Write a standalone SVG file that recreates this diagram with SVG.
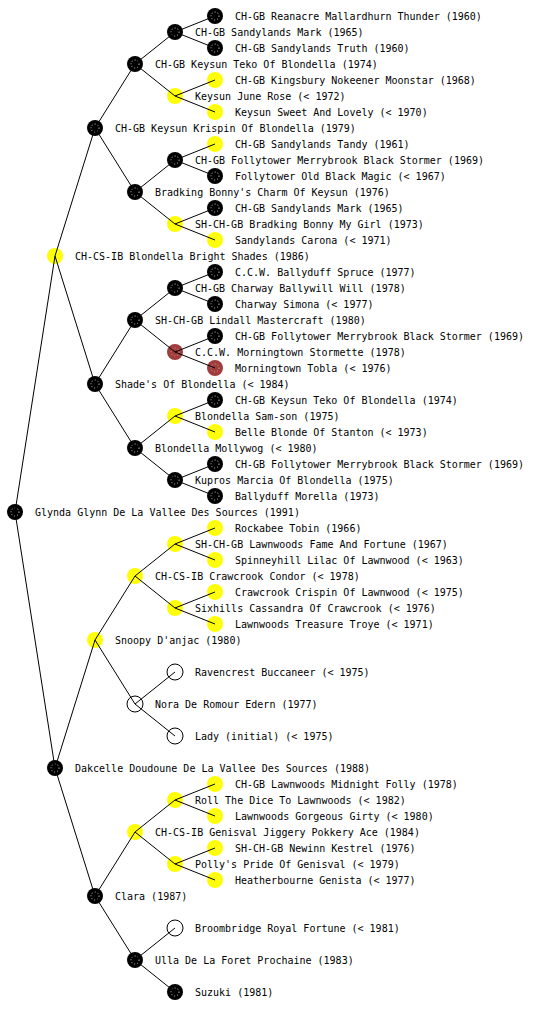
<svg xmlns="http://www.w3.org/2000/svg" width="560" height="1024" viewBox="0 0 560 1024">
<style>
text{font-family:"DejaVu Sans Mono","Liberation Mono",monospace;font-size:10px;fill:#000}
.b{fill:#000}
.y{fill:#ffff00}
.r{fill:#a03c3c}
.o{fill:#fff;stroke:#000;stroke-width:1}
.d{fill:none;stroke:#fff;stroke-width:1;stroke-dasharray:1 2;opacity:0.8}
.dy{fill:none;stroke:#fff;stroke-width:1;stroke-dasharray:1 2;opacity:0.5}
#edges line{stroke:#000;stroke-width:1}
</style>
<rect width="560" height="1024" fill="#fff"/>
<g id="nodes">
<g id="n0"><circle class="b" cx="15" cy="512" r="8"/><circle class="d" cx="15" cy="512" r="4"/><text x="35" y="516">Glynda Glynn De La Vallee Des Sources (1991)</text></g>
<g id="n1"><circle class="y" cx="55" cy="256" r="8"/><circle class="dy" cx="55" cy="256" r="4"/><text x="75" y="260">CH-CS-IB Blondella Bright Shades (1986)</text></g>
<g id="n2"><circle class="b" cx="95" cy="128" r="8"/><circle class="d" cx="95" cy="128" r="4"/><text x="115" y="132">CH-GB Keysun Krispin Of Blondella (1979)</text></g>
<g id="n3"><circle class="b" cx="135" cy="64" r="8"/><circle class="d" cx="135" cy="64" r="4"/><text x="155" y="68">CH-GB Keysun Teko Of Blondella (1974)</text></g>
<g id="n4"><circle class="b" cx="175" cy="32" r="8"/><circle class="d" cx="175" cy="32" r="4"/><text x="195" y="36">CH-GB Sandylands Mark (1965)</text></g>
<g id="n5"><circle class="b" cx="215" cy="16" r="8"/><circle class="d" cx="215" cy="16" r="4"/><text x="235" y="20">CH-GB Reanacre Mallardhurn Thunder (1960)</text></g>
<g id="n6"><circle class="b" cx="215" cy="48" r="8"/><circle class="d" cx="215" cy="48" r="4"/><text x="235" y="52">CH-GB Sandylands Truth (1960)</text></g>
<g id="n7"><circle class="y" cx="175" cy="96" r="8"/><circle class="dy" cx="175" cy="96" r="4"/><text x="195" y="100">Keysun June Rose (&lt; 1972)</text></g>
<g id="n8"><circle class="y" cx="215" cy="80" r="8"/><circle class="dy" cx="215" cy="80" r="4"/><text x="235" y="84">CH-GB Kingsbury Nokeener Moonstar (1968)</text></g>
<g id="n9"><circle class="y" cx="215" cy="112" r="8"/><circle class="dy" cx="215" cy="112" r="4"/><text x="235" y="116">Keysun Sweet And Lovely (&lt; 1970)</text></g>
<g id="n10"><circle class="b" cx="135" cy="192" r="8"/><circle class="d" cx="135" cy="192" r="4"/><text x="155" y="196">Bradking Bonny's Charm Of Keysun (1976)</text></g>
<g id="n11"><circle class="b" cx="175" cy="160" r="8"/><circle class="d" cx="175" cy="160" r="4"/><text x="195" y="164">CH-GB Follytower Merrybrook Black Stormer (1969)</text></g>
<g id="n12"><circle class="y" cx="215" cy="144" r="8"/><circle class="dy" cx="215" cy="144" r="4"/><text x="235" y="148">CH-GB Sandylands Tandy (1961)</text></g>
<g id="n13"><circle class="b" cx="215" cy="176" r="8"/><circle class="d" cx="215" cy="176" r="4"/><text x="235" y="180">Follytower Old Black Magic (&lt; 1967)</text></g>
<g id="n14"><circle class="y" cx="175" cy="224" r="8"/><circle class="dy" cx="175" cy="224" r="4"/><text x="195" y="228">SH-CH-GB Bradking Bonny My Girl (1973)</text></g>
<g id="n15"><circle class="b" cx="215" cy="208" r="8"/><circle class="d" cx="215" cy="208" r="4"/><text x="235" y="212">CH-GB Sandylands Mark (1965)</text></g>
<g id="n16"><circle class="y" cx="215" cy="240" r="8"/><circle class="dy" cx="215" cy="240" r="4"/><text x="235" y="244">Sandylands Carona (&lt; 1971)</text></g>
<g id="n17"><circle class="b" cx="95" cy="384" r="8"/><circle class="d" cx="95" cy="384" r="4"/><text x="115" y="388">Shade's Of Blondella (&lt; 1984)</text></g>
<g id="n18"><circle class="b" cx="135" cy="320" r="8"/><circle class="d" cx="135" cy="320" r="4"/><text x="155" y="324">SH-CH-GB Lindall Mastercraft (1980)</text></g>
<g id="n19"><circle class="b" cx="175" cy="288" r="8"/><circle class="d" cx="175" cy="288" r="4"/><text x="195" y="292">CH-GB Charway Ballywill Will (1978)</text></g>
<g id="n20"><circle class="b" cx="215" cy="272" r="8"/><circle class="d" cx="215" cy="272" r="4"/><text x="235" y="276">C.C.W. Ballyduff Spruce (1977)</text></g>
<g id="n21"><circle class="b" cx="215" cy="304" r="8"/><circle class="d" cx="215" cy="304" r="4"/><text x="235" y="308">Charway Simona (&lt; 1977)</text></g>
<g id="n22"><circle class="r" cx="175" cy="352" r="8"/><circle class="dy" cx="175" cy="352" r="4"/><text x="195" y="356">C.C.W. Morningtown Stormette (1978)</text></g>
<g id="n23"><circle class="b" cx="215" cy="336" r="8"/><circle class="d" cx="215" cy="336" r="4"/><text x="235" y="340">CH-GB Follytower Merrybrook Black Stormer (1969)</text></g>
<g id="n24"><circle class="r" cx="215" cy="368" r="8"/><circle class="dy" cx="215" cy="368" r="4"/><text x="235" y="372">Morningtown Tobla (&lt; 1976)</text></g>
<g id="n25"><circle class="b" cx="135" cy="448" r="8"/><circle class="d" cx="135" cy="448" r="4"/><text x="155" y="452">Blondella Mollywog (&lt; 1980)</text></g>
<g id="n26"><circle class="y" cx="175" cy="416" r="8"/><circle class="dy" cx="175" cy="416" r="4"/><text x="195" y="420">Blondella Sam-son (1975)</text></g>
<g id="n27"><circle class="b" cx="215" cy="400" r="8"/><circle class="d" cx="215" cy="400" r="4"/><text x="235" y="404">CH-GB Keysun Teko Of Blondella (1974)</text></g>
<g id="n28"><circle class="y" cx="215" cy="432" r="8"/><circle class="dy" cx="215" cy="432" r="4"/><text x="235" y="436">Belle Blonde Of Stanton (&lt; 1973)</text></g>
<g id="n29"><circle class="b" cx="175" cy="480" r="8"/><circle class="d" cx="175" cy="480" r="4"/><text x="195" y="484">Kupros Marcia Of Blondella (1975)</text></g>
<g id="n30"><circle class="b" cx="215" cy="464" r="8"/><circle class="d" cx="215" cy="464" r="4"/><text x="235" y="468">CH-GB Follytower Merrybrook Black Stormer (1969)</text></g>
<g id="n31"><circle class="b" cx="215" cy="496" r="8"/><circle class="d" cx="215" cy="496" r="4"/><text x="235" y="500">Ballyduff Morella (1973)</text></g>
<g id="n32"><circle class="b" cx="55" cy="768" r="8"/><circle class="d" cx="55" cy="768" r="4"/><text x="75" y="772">Dakcelle Doudoune De La Vallee Des Sources (1988)</text></g>
<g id="n33"><circle class="y" cx="95" cy="640" r="8"/><circle class="dy" cx="95" cy="640" r="4"/><text x="115" y="644">Snoopy D'anjac (1980)</text></g>
<g id="n34"><circle class="y" cx="135" cy="576" r="8"/><circle class="dy" cx="135" cy="576" r="4"/><text x="155" y="580">CH-CS-IB Crawcrook Condor (&lt; 1978)</text></g>
<g id="n35"><circle class="y" cx="175" cy="544" r="8"/><circle class="dy" cx="175" cy="544" r="4"/><text x="195" y="548">SH-CH-GB Lawnwoods Fame And Fortune (1967)</text></g>
<g id="n36"><circle class="y" cx="215" cy="528" r="8"/><circle class="dy" cx="215" cy="528" r="4"/><text x="235" y="532">Rockabee Tobin (1966)</text></g>
<g id="n37"><circle class="y" cx="215" cy="560" r="8"/><circle class="dy" cx="215" cy="560" r="4"/><text x="235" y="564">Spinneyhill Lilac Of Lawnwood (&lt; 1963)</text></g>
<g id="n38"><circle class="y" cx="175" cy="608" r="8"/><circle class="dy" cx="175" cy="608" r="4"/><text x="195" y="612">Sixhills Cassandra Of Crawcrook (&lt; 1976)</text></g>
<g id="n39"><circle class="y" cx="215" cy="592" r="8"/><circle class="dy" cx="215" cy="592" r="4"/><text x="235" y="596">Crawcrook Crispin Of Lawnwood (&lt; 1975)</text></g>
<g id="n40"><circle class="y" cx="215" cy="624" r="8"/><circle class="dy" cx="215" cy="624" r="4"/><text x="235" y="628">Lawnwoods Treasure Troye (&lt; 1971)</text></g>
<g id="n41"><circle class="o" cx="135" cy="704" r="8"/><text x="155" y="708">Nora De Romour Edern (1977)</text></g>
<g id="n42"><circle class="o" cx="175" cy="672" r="8"/><text x="195" y="676">Ravencrest Buccaneer (&lt; 1975)</text></g>
<g id="n43"><circle class="o" cx="175" cy="736" r="8"/><text x="195" y="740">Lady (initial) (&lt; 1975)</text></g>
<g id="n44"><circle class="b" cx="95" cy="896" r="8"/><circle class="d" cx="95" cy="896" r="4"/><text x="115" y="900">Clara (1987)</text></g>
<g id="n45"><circle class="y" cx="135" cy="832" r="8"/><circle class="dy" cx="135" cy="832" r="4"/><text x="155" y="836">CH-CS-IB Genisval Jiggery Pokkery Ace (1984)</text></g>
<g id="n46"><circle class="y" cx="175" cy="800" r="8"/><circle class="dy" cx="175" cy="800" r="4"/><text x="195" y="804">Roll The Dice To Lawnwoods (&lt; 1982)</text></g>
<g id="n47"><circle class="y" cx="215" cy="784" r="8"/><circle class="dy" cx="215" cy="784" r="4"/><text x="235" y="788">CH-GB Lawnwoods Midnight Folly (1978)</text></g>
<g id="n48"><circle class="y" cx="215" cy="816" r="8"/><circle class="dy" cx="215" cy="816" r="4"/><text x="235" y="820">Lawnwoods Gorgeous Girty (&lt; 1980)</text></g>
<g id="n49"><circle class="y" cx="175" cy="864" r="8"/><circle class="dy" cx="175" cy="864" r="4"/><text x="195" y="868">Polly's Pride Of Genisval (&lt; 1979)</text></g>
<g id="n50"><circle class="y" cx="215" cy="848" r="8"/><circle class="dy" cx="215" cy="848" r="4"/><text x="235" y="852">SH-CH-GB Newinn Kestrel (1976)</text></g>
<g id="n51"><circle class="y" cx="215" cy="880" r="8"/><circle class="dy" cx="215" cy="880" r="4"/><text x="235" y="884">Heatherbourne Genista (&lt; 1977)</text></g>
<g id="n52"><circle class="b" cx="135" cy="960" r="8"/><circle class="d" cx="135" cy="960" r="4"/><text x="155" y="964">Ulla De La Foret Prochaine (1983)</text></g>
<g id="n53"><circle class="o" cx="175" cy="928" r="8"/><text x="195" y="932">Broombridge Royal Fortune (&lt; 1981)</text></g>
<g id="n54"><circle class="b" cx="175" cy="992" r="8"/><circle class="d" cx="175" cy="992" r="4"/><text x="195" y="996">Suzuki (1981)</text></g>
</g>
<g id="edges">
<line x1="15" y1="512" x2="55" y2="256"/><line x1="15" y1="512" x2="55" y2="768"/>
<line x1="55" y1="256" x2="95" y2="128"/><line x1="55" y1="256" x2="95" y2="384"/>
<line x1="95" y1="128" x2="135" y2="64"/><line x1="95" y1="128" x2="135" y2="192"/>
<line x1="135" y1="64" x2="175" y2="32"/><line x1="135" y1="64" x2="175" y2="96"/>
<line x1="175" y1="32" x2="215" y2="16"/><line x1="175" y1="32" x2="215" y2="48"/>
<line x1="175" y1="96" x2="215" y2="80"/><line x1="175" y1="96" x2="215" y2="112"/>
<line x1="135" y1="192" x2="175" y2="160"/><line x1="135" y1="192" x2="175" y2="224"/>
<line x1="175" y1="160" x2="215" y2="144"/><line x1="175" y1="160" x2="215" y2="176"/>
<line x1="175" y1="224" x2="215" y2="208"/><line x1="175" y1="224" x2="215" y2="240"/>
<line x1="95" y1="384" x2="135" y2="320"/><line x1="95" y1="384" x2="135" y2="448"/>
<line x1="135" y1="320" x2="175" y2="288"/><line x1="135" y1="320" x2="175" y2="352"/>
<line x1="175" y1="288" x2="215" y2="272"/><line x1="175" y1="288" x2="215" y2="304"/>
<line x1="175" y1="352" x2="215" y2="336"/><line x1="175" y1="352" x2="215" y2="368"/>
<line x1="135" y1="448" x2="175" y2="416"/><line x1="135" y1="448" x2="175" y2="480"/>
<line x1="175" y1="416" x2="215" y2="400"/><line x1="175" y1="416" x2="215" y2="432"/>
<line x1="175" y1="480" x2="215" y2="464"/><line x1="175" y1="480" x2="215" y2="496"/>
<line x1="55" y1="768" x2="95" y2="640"/><line x1="55" y1="768" x2="95" y2="896"/>
<line x1="95" y1="640" x2="135" y2="576"/><line x1="95" y1="640" x2="135" y2="704"/>
<line x1="135" y1="576" x2="175" y2="544"/><line x1="135" y1="576" x2="175" y2="608"/>
<line x1="175" y1="544" x2="215" y2="528"/><line x1="175" y1="544" x2="215" y2="560"/>
<line x1="175" y1="608" x2="215" y2="592"/><line x1="175" y1="608" x2="215" y2="624"/>
<line x1="135" y1="704" x2="175" y2="672"/><line x1="135" y1="704" x2="175" y2="736"/>
<line x1="95" y1="896" x2="135" y2="832"/><line x1="95" y1="896" x2="135" y2="960"/>
<line x1="135" y1="832" x2="175" y2="800"/><line x1="135" y1="832" x2="175" y2="864"/>
<line x1="175" y1="800" x2="215" y2="784"/><line x1="175" y1="800" x2="215" y2="816"/>
<line x1="175" y1="864" x2="215" y2="848"/><line x1="175" y1="864" x2="215" y2="880"/>
<line x1="135" y1="960" x2="175" y2="928"/><line x1="135" y1="960" x2="175" y2="992"/>
</g>
</svg>
